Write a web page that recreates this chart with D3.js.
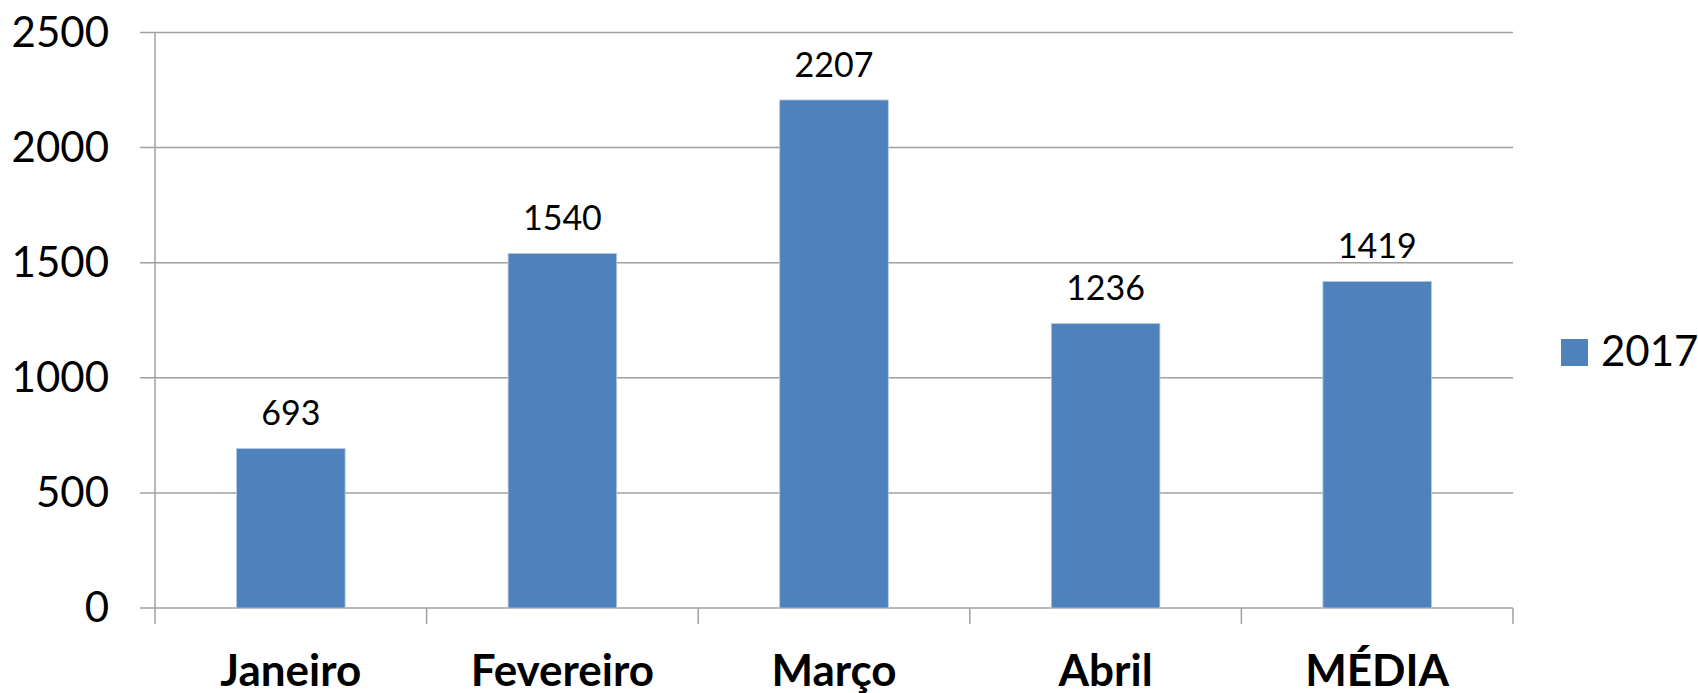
<!DOCTYPE html>
<html>
<head>
<meta charset="utf-8">
<script src="https://cdn.jsdelivr.net/npm/d3@7"></script>
<style>
  html, body { margin: 0; padding: 0; background: #fff; }
  svg { display: block; }
  text { font-family: Lato, "Open Sans", sans-serif; fill: #000; }
</style>
</head>
<body>
<svg id="chart" width="1698" height="693"></svg>
<script>
// Monthly totals for 2017 plus the average
const categories = ["Janeiro", "Fevereiro", "Março", "Abril", "MÉDIA"];
const values2017 = [693, 1540, 2207, 1236, 1419];
const seriesName = "2017";
const yTicks = [0, 500, 1000, 1500, 2000, 2500];

const svg = d3.select("#chart");
const plotLeft = 155, plotRight = 1513, plotTop = 32.5, plotBottom = 608;
const barColor = "#4F81BD";
const gridColor = "#A0A0A0";

const x = d3.scaleBand().domain(categories).range([plotLeft, plotRight]).paddingInner(0.6).paddingOuter(0.3);
const xCat = d3.scaleBand().domain(categories).range([plotLeft, plotRight]);
const y = d3.scaleLinear().domain([0, 2500]).range([plotBottom, plotTop]);

// horizontal gridlines (with left tick stub)
svg.append("g").selectAll("line").data(yTicks).join("line")
  .attr("x1", plotLeft - 15).attr("x2", plotRight)
  .attr("y1", d => y(d)).attr("y2", d => y(d))
  .attr("stroke", gridColor).attr("stroke-width", 1.5);

// y axis line
svg.append("line").attr("x1", plotLeft).attr("x2", plotLeft).attr("y1", plotTop).attr("y2", plotBottom + 16)
  .attr("stroke", gridColor).attr("stroke-width", 1.5);

// category boundary ticks below the baseline
svg.append("g").selectAll("line").data(categories).join("line")
  .attr("x1", d => xCat(d) + xCat.bandwidth())
  .attr("x2", d => xCat(d) + xCat.bandwidth())
  .attr("y1", plotBottom).attr("y2", plotBottom + 16)
  .attr("stroke", gridColor).attr("stroke-width", 1.5);

// y tick labels
svg.append("g").selectAll("text").data(yTicks).join("text")
  .attr("x", 109).attr("y", d => y(d) + 14)
  .attr("text-anchor", "end")
  .style("font-size", "42px")
  .text(d => d);

// bars
svg.append("g").selectAll("rect").data(values2017).join("rect")
  .attr("x", (d, i) => x(categories[i]))
  .attr("width", x.bandwidth())
  .attr("y", d => y(d))
  .attr("height", d => plotBottom - y(d))
  .attr("fill", barColor)
  .attr("stroke", "#B9CDE5").attr("stroke-width", 0.8);

// value labels
svg.append("g").selectAll("text").data(values2017).join("text")
  .attr("x", (d, i) => x(categories[i]) + x.bandwidth() / 2)
  .attr("y", d => y(d) - 23)
  .attr("text-anchor", "middle")
  .style("font-size", "34px")
  .text(d => d);

// category labels
svg.append("g").selectAll("text").data(categories).join("text")
  .attr("x", d => xCat(d) + xCat.bandwidth() / 2)
  .attr("y", 686)
  .attr("text-anchor", "middle")
  .style("font-size", "44px")
  .style("font-weight", "bold")
  .text(d => d);

// legend
svg.append("rect").attr("x", 1561).attr("y", 339).attr("width", 27).attr("height", 27).attr("fill", barColor);
svg.append("text").attr("x", 1601).attr("y", 366).style("font-size", "42px").text(seriesName);
</script>
</body>
</html>
